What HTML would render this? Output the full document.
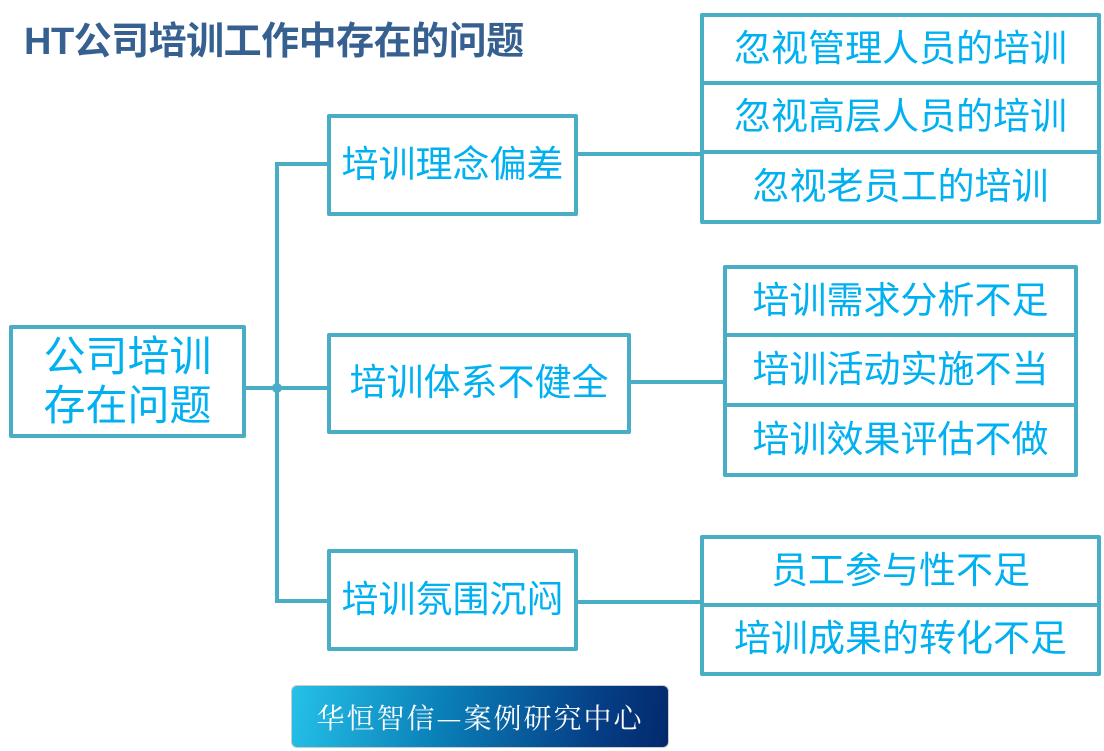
<!DOCTYPE html>
<html><head><meta charset="utf-8"><style>
body{margin:0;width:1104px;height:751px;background:#fff;position:relative;overflow:hidden;font-family:"Liberation Sans","Noto Sans CJK SC",sans-serif}
.t{position:absolute;left:24px;top:10px;font-size:38px;font-weight:bold;color:#36608f;letter-spacing:-0.5px}
.b{position:absolute;box-sizing:border-box;border:4px solid #4aadc6;border-radius:2px;background:#fff;color:#00b0f0;display:flex;align-items:center;justify-content:center;text-align:center;font-size:37px;line-height:1.2;white-space:nowrap}
.l{position:absolute;background:#4aadc6}
.f{position:absolute;left:291px;top:685px;width:378px;height:63px;box-sizing:border-box;border:1px solid #ccc;border-radius:6px;background:linear-gradient(100deg,#25c1e8 0%,#0a7fb8 40%,#053f86 80%,#04296c 100%);color:#fff;font-family:"Noto Serif CJK SC",serif;font-size:28px;display:flex;align-items:center;justify-content:center;letter-spacing:2px}
</style></head><body>
<div class="t">HT公司培训工作中存在的问题</div>
<div class="l" style="left:275px;top:162px;width:4px;height:441px"></div>
<div class="l" style="left:245px;top:386px;width:84px;height:4px"></div>
<div class="l" style="left:275px;top:162px;width:54px;height:4px"></div>
<div class="l" style="left:275px;top:599px;width:54px;height:4px"></div>
<div style="position:absolute;left:272px;top:383px;width:10px;height:10px;border-radius:50%;background:#4aadc6"></div>
<div class="l" style="left:577px;top:152px;width:125px;height:4px"></div>
<div class="l" style="left:630px;top:380px;width:95px;height:4px"></div>
<div class="l" style="left:577px;top:600px;width:125px;height:4px"></div>
<div class="b" style="left:9px;top:325px;width:237px;height:113px;font-size:42px;line-height:1.15">公司培训<br>存在问题</div>
<div class="b" style="left:327px;top:114px;width:251px;height:102px">培训理念偏差</div>
<div class="b" style="left:327px;top:333px;width:304px;height:101px">培训体系不健全</div>
<div class="b" style="left:327px;top:549px;width:251px;height:102px">培训氛围沉闷</div>
<div class="b" style="left:700px;top:13px;width:401px;height:72px">忽视管理人员的培训</div>
<div class="b" style="left:700px;top:81px;width:401px;height:73px">忽视高层人员的培训</div>
<div class="b" style="left:700px;top:150px;width:401px;height:74px">忽视老员工的培训</div>
<div class="b" style="left:723px;top:265px;width:355px;height:72px">培训需求分析不足</div>
<div class="b" style="left:723px;top:333px;width:355px;height:74px">培训活动实施不当</div>
<div class="b" style="left:723px;top:403px;width:355px;height:74px">培训效果评估不做</div>
<div class="b" style="left:700px;top:535px;width:401px;height:72px">员工参与性不足</div>
<div class="b" style="left:700px;top:603px;width:401px;height:73px">培训成果的转化不足</div>
<div class="f">华恒智信—案例研究中心</div>
</body></html>
